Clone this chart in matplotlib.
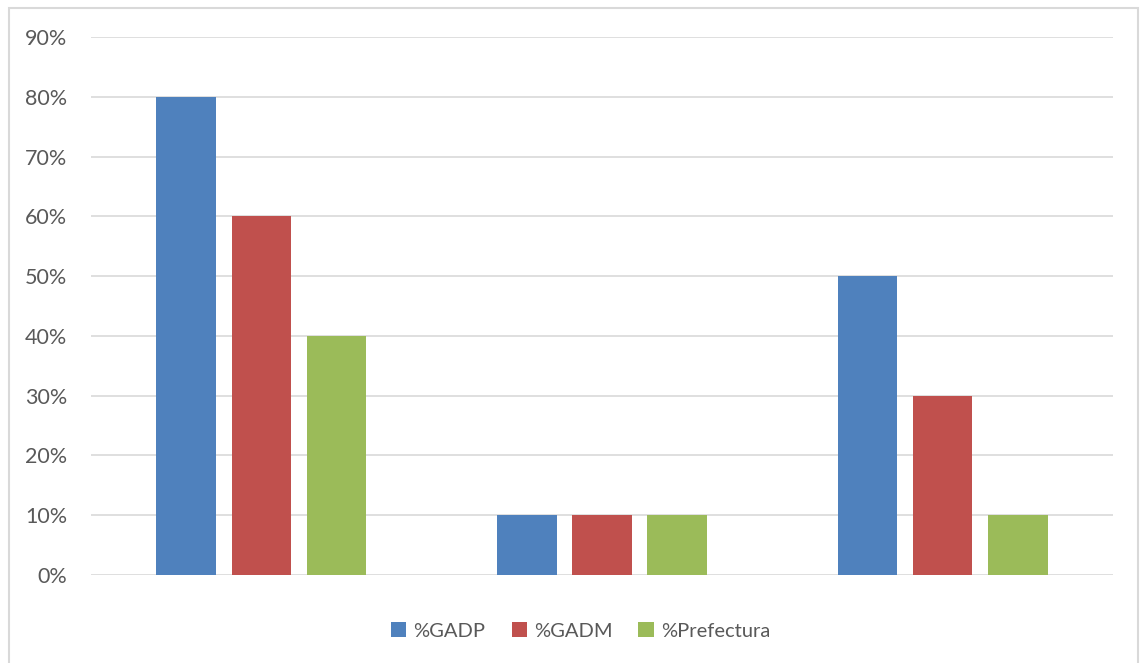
import numpy as np
import matplotlib
matplotlib.use("Agg")
import matplotlib.pyplot as plt
import matplotlib.patches as mpatches
from matplotlib.ticker import PercentFormatter

# Data
groups = ["", "", ""]
series = ["%GADP", "%GADM", "%Prefectura"]
gadp = [0.80, 0.10, 0.50]
gadm = [0.60, 0.10, 0.30]
prefectura = [0.40, 0.10, 0.10]
colors = ["#4F81BD", "#C0504D", "#9BBB59"]
yticks = [0.0, 0.1, 0.2, 0.3, 0.4, 0.5, 0.6, 0.7, 0.8, 0.9]

plt.rcParams['font.family'] = ['Lato', 'DejaVu Sans']
textColor = "#595959"
gridColor = "#D9D9D9"

fig = plt.figure(figsize=(11.42, 6.63), dpi=100)
ax = fig.add_axes([0.0797, 0.1327, 0.8949, 0.8115])

# Outer chart border
fig.patches.append(mpatches.Rectangle((9 / 1142, -0.01), 1129 / 1142, 1 - 8 / 663 + 0.01,
                                      transform=fig.transFigure, fill=False,
                                      edgecolor=gridColor, lw=1.5))

x = np.arange(len(groups))
width = 0.175
step = 0.221
for i, (vals, name) in enumerate(zip([gadp, gadm, prefectura], series)):
    ax.bar(x + (i - 1) * step, vals, width, color=colors[i], label=name, zorder=3)

ax.set_xlim(-0.5, 2.5)
ax.set_ylim(0, 0.9)
ax.set_yticks(yticks)
ax.yaxis.set_major_formatter(PercentFormatter(1.0, decimals=0))
ax.set_xticks([])

ax.grid(axis='y', color=gridColor, lw=1.2, zorder=0)
for s in ax.spines.values():
    s.set_visible(False)
ax.tick_params(axis='y', length=0, pad=17, labelsize=15.5, labelcolor=textColor)

ax.legend(loc='center', bbox_to_anchor=(0.479, -0.104), ncol=3, frameon=False,
          fontsize=14.5, labelcolor=textColor, handlelength=0.75, handleheight=0.75,
          handletextpad=0.35, columnspacing=1.3)

plt.savefig("out.png")
